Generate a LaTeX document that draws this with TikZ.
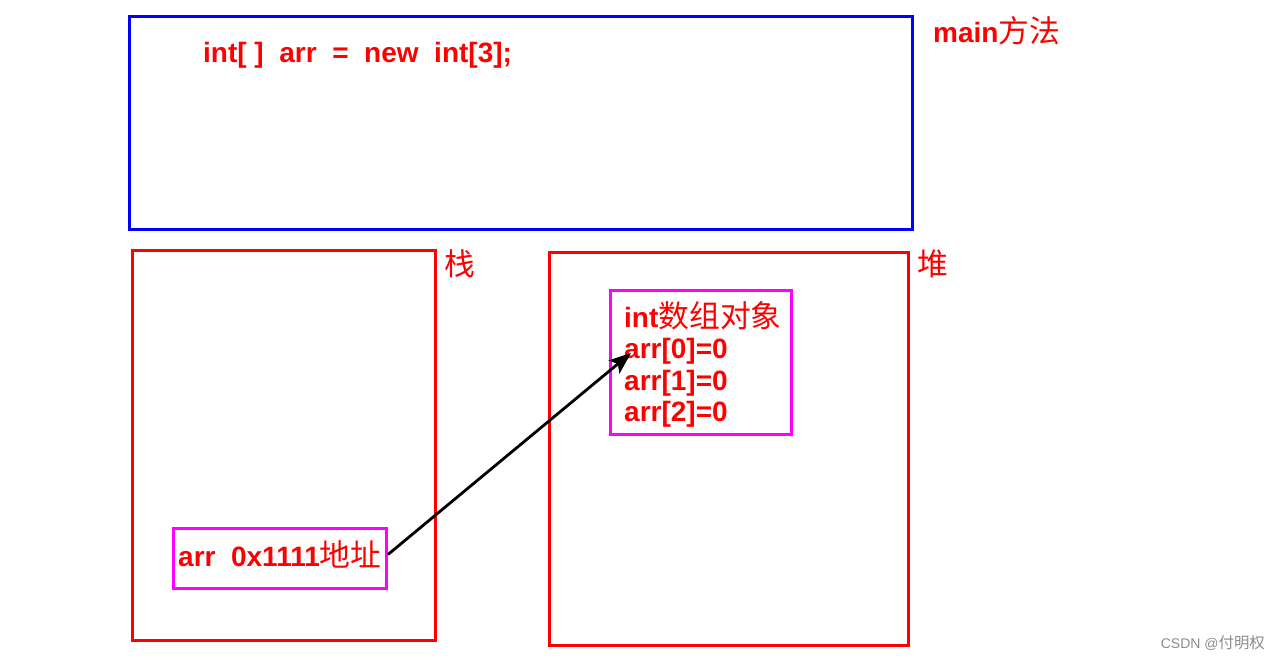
\documentclass[tikz,border=0pt]{standalone}
\usepackage{fontspec}
\setmainfont{Liberation Sans}
\newfontfamily\cjkfont{Noto Sans CJK SC}[Scale=1.1]
\newcommand\zhtxt[1]{{\mdseries\cjkfont #1}}
\usetikzlibrary{arrows.meta,shadows}
\definecolor{myred}{RGB}{255,0,0}
\definecolor{myblue}{RGB}{0,0,255}
\definecolor{mypink}{RGB}{255,0,255}
\tikzset{
  boxbase/.style={draw, fill=white, line width=3pt, anchor=north west, inner sep=0pt,
    drop shadow={opacity=0.3, shadow xshift=1.5pt, shadow yshift=-1.5pt}},
  bluebox/.style={boxbase, draw=myblue},
  redbox/.style={boxbase, draw=myred},
  pinkbox/.style={boxbase, draw=mypink},
  txt/.style={text=myred, font=\fontsize{28}{31}\selectfont\bfseries, inner sep=0pt, anchor=base west},
  lbl/.style={text=myred, font=\fontsize{28}{31}\selectfont\cjkfont, inner sep=0pt, anchor=base west},
  ptr/.style={line width=2.8pt, -{Stealth[length=22pt,width=17pt,inset=5pt]}}
}
\begin{document}
\begin{tikzpicture}[x=1pt,y=-1pt]
\useasboundingbox[fill=white] (0,0) rectangle (1280,660);
% main frame
\node[bluebox, minimum width=783, minimum height=213] (mainbox) at (128,15) {};
\node[txt] (code) at (203,63) {int[ ]\ \ arr\ \ =\ \ new\ \ int[3];};
\node[txt] (mainlbl) at (933,43) {main\zhtxt{方法}};
% stack
\node[redbox, minimum width=303, minimum height=390] (stack) at (131,249) {};
\node[lbl] (stacklbl) at (444,276) {栈};
% heap
\node[redbox, minimum width=359, minimum height=393] (heap) at (548,251) {};
\node[lbl] (heaplbl) at (917,276) {堆};
% heap object
\node[pinkbox, minimum width=181, minimum height=144] (obj) at (609,289) {};
\node[txt] (l0) at (624,328) {int\zhtxt{数组对象}};
\node[txt] (l1) at (624,359) {arr[0]=0};
\node[txt] (l2) at (624,390) {arr[1]=0};
\node[txt] (l3) at (624,421) {arr[2]=0};
% stack variable
\node[pinkbox, minimum width=213, minimum height=60] (var) at (172,527) {};
\node[txt] (vartxt) at (178,566) {arr\ \ 0x1111\zhtxt{地址}};
% pointer
\coordinate (tip) at (631,353);
\draw[ptr] ([yshift=4pt]var.east) -- (tip);
% watermark
\node[text=black!45, font=\fontsize{14}{14}\selectfont, inner sep=0pt, anchor=base east] (wm) at (1265,648) {CSDN @\zhtxt{付明权}};
\end{tikzpicture}
\end{document}
